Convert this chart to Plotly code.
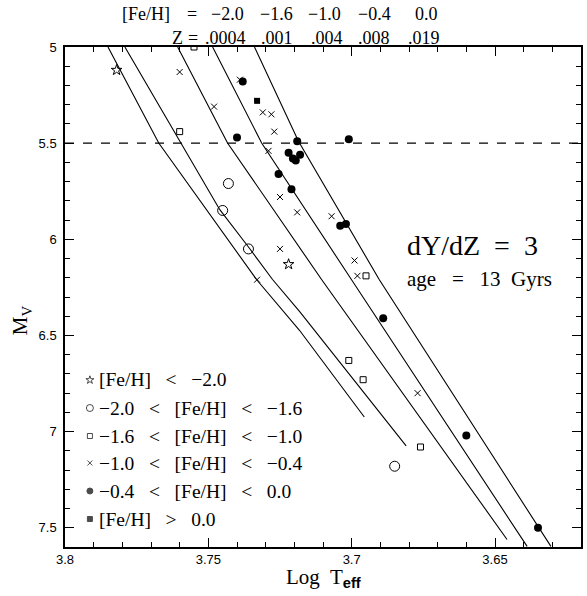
import plotly.graph_objects as go

# ---------------- data ----------------
# isochrones (Log Teff, M_V), 13 Gyr, dY/dZ = 3
iso_z = [".0004", ".001", ".004", ".008", ".019"]
iso_feh = ["−2.0", "−1.6", "−1.0", "−0.4", "0.0"]
iso1_teff = [3.7850, 3.7673, 3.7332, 3.7182, 3.6956]
iso1_mv = [5.00, 5.499, 6.209, 6.473, 6.924]
iso2_teff = [3.7791, 3.7460, 3.7356, 3.7276, 3.7182, 3.6810]
iso2_mv = [5.00, 5.846, 6.048, 6.209, 6.375, 7.074]
iso3_teff = [3.7607, 3.7433, 3.7105, 3.6458]
iso3_mv = [5.00, 5.499, 6.209, 7.561]
iso4_teff = [3.7485, 3.7314, 3.7001, 3.6388]
iso4_mv = [5.00, 5.499, 6.209, 7.597]
iso5_teff = [3.7339, 3.7186, 3.6904, 3.6305]
iso5_mv = [5.00, 5.489, 6.209, 7.597]

# stars by metallicity bin
star_teff = [3.782, 3.722]
star_mv = [5.12, 6.13]
ocirc_teff = [3.743, 3.745, 3.736, 3.685]
ocirc_mv = [5.71, 5.85, 6.05, 7.18]
osq_teff = [3.755, 3.760, 3.695, 3.701, 3.696, 3.676]
osq_mv = [5.00, 5.44, 6.19, 6.63, 6.73, 7.08]
cross_teff = [3.760, 3.739, 3.731, 3.728, 3.748, 3.727, 3.729, 3.725, 3.719,
              3.725, 3.733, 3.707, 3.699, 3.698, 3.677]
cross_mv = [5.13, 5.17, 5.34, 5.35, 5.31, 5.44, 5.54, 5.78, 5.86,
            6.05, 6.21, 5.88, 6.11, 6.19, 6.80]
fcirc_teff = [3.738, 3.740, 3.719, 3.722, 3.718, 3.7205, 3.7195, 3.7255, 3.721,
              3.701, 3.704, 3.702, 3.689, 3.660, 3.635]
fcirc_mv = [5.18, 5.47, 5.49, 5.55, 5.56, 5.58, 5.59, 5.66, 5.74,
            5.48, 5.93, 5.92, 6.41, 7.02, 7.50]
fsq_teff = [3.733]
fsq_mv = [5.28]

cut_mv = [5.5]

legend_labels = ["[Fe/H]   <   −2.0", "−2.0   <   [Fe/H]   <   −1.6", "−1.6   <   [Fe/H]   <   −1.0",
                 "−1.0   <   [Fe/H]   <   −0.4", "−0.4   <   [Fe/H]   <   0.0", "[Fe/H]   >   0.0"]

x_tickvals = [3.8, 3.75, 3.7, 3.65]
x_ticktext = ["3.8", "3.75", "3.7", "3.65"]
y_tickvals = [5, 5.5, 6, 6.5, 7, 7.5]
y_ticktext = ["5", "5.5", "6", "6.5", "7", "7.5"]

# ---------------- layout helpers ----------------
W, H = 587, 596                # figure size (page body margin removed below)
L, R, T, B = 65, 583, 47, 547  # plot box in window pixels
SERIF = "Liberation Serif"
SANS = "Liberation Sans"


def px(x):
    return (x - L) / (R - L)


def py(y):
    return (B - y) / (B - T)


fig = go.Figure()

for tx, mv in [(iso1_teff, iso1_mv), (iso2_teff, iso2_mv), (iso3_teff, iso3_mv),
               (iso4_teff, iso4_mv), (iso5_teff, iso5_mv)]:
    fig.add_trace(go.Scatter(x=tx, y=mv, mode="lines",
                             line=dict(color="black", width=1.1), showlegend=False))

sym_specs = [
    (star_teff, star_mv, "star-open", 8, 1.0),
    (ocirc_teff, ocirc_mv, "circle-open", 10, 1.0),
    (osq_teff, osq_mv, "square-open", 6, 1.0),
    (cross_teff, cross_mv, "x-thin-open", 6, 1.0),
    (fcirc_teff, fcirc_mv, "circle", 8, 0),
    (fsq_teff, fsq_mv, "square", 6, 0),
]
for tx, mv, sym, size, lw in sym_specs:
    fig.add_trace(go.Scatter(x=tx, y=mv, mode="markers",
                             marker=dict(symbol=sym, size=size, color="black",
                                         line=dict(color="black", width=lw)),
                             showlegend=False))

fig.add_hline(y=cut_mv[0], line=dict(color="black", width=1.1, dash="dash"))

# legend key markers on an overlay axis (0..1 box)
leg_rows = [380, 408, 436, 463, 491, 519]
fig.add_trace(go.Scatter(
    x=[px(90)] * len(legend_labels), y=[py(r) for r in leg_rows],
    mode="markers", xaxis="x2", yaxis="y2", showlegend=False,
    marker=dict(symbol=[s[2] for s in sym_specs], size=[6, 7, 5, 5, 6, 5],
                color="black", line=dict(color="black", width=1))))

annotations = []
for lab, r in zip(legend_labels, leg_rows):
    annotations.append(dict(x=px(97), y=py(r), xref="paper", yref="paper",
                            text=lab, showarrow=False, xanchor="left", yanchor="middle",
                            font=dict(family=SERIF, size=19.5, color="black")))

# header rows
feh_x = [228, 277, 326, 376, 428]
z_x = [226, 278, 328, 375, 425]
ROW1, ROW2 = 14, 38
HFONT = dict(family=SERIF, size=18, color="black")
annotations.append(dict(x=px(172), y=py(ROW1), xref="paper", yref="paper", text="[Fe/H]",
                        showarrow=False, xanchor="right", yanchor="middle", font=HFONT))
annotations.append(dict(x=px(192), y=py(ROW1), xref="paper", yref="paper", text="=",
                        showarrow=False, xanchor="center", yanchor="middle", font=HFONT))
annotations.append(dict(x=px(185), y=py(ROW2), xref="paper", yref="paper", text="Z",
                        showarrow=False, xanchor="right", yanchor="middle", font=HFONT))
annotations.append(dict(x=px(193), y=py(ROW2), xref="paper", yref="paper", text="=",
                        showarrow=False, xanchor="center", yanchor="middle", font=HFONT))
for f, xx in zip(iso_feh, feh_x):
    annotations.append(dict(x=px(xx), y=py(ROW1), xref="paper", yref="paper", text=f,
                            showarrow=False, xanchor="center", yanchor="middle", font=HFONT))
for z, xx in zip(iso_z, z_x):
    annotations.append(dict(x=px(xx), y=py(ROW2), xref="paper", yref="paper", text=z,
                            showarrow=False, xanchor="center", yanchor="middle", font=HFONT))

annotations.append(dict(x=px(406), y=py(245), xref="paper", yref="paper", text="dY/dZ  =  3",
                        showarrow=False, xanchor="left", yanchor="middle",
                        font=dict(family=SERIF, size=28, color="black")))
annotations.append(dict(x=px(406), y=py(279), xref="paper", yref="paper", text="age   =   13  Gyrs",
                        showarrow=False, xanchor="left", yanchor="middle",
                        font=dict(family=SERIF, size=21, color="black")))

annotations.append(dict(x=px(325), y=py(578), xref="paper", yref="paper",
                        text="Log  T<sub><span style='font-family:Liberation Sans;font-weight:bold'>eff</span></sub>",
                        showarrow=False, xanchor="center", yanchor="middle",
                        font=dict(family=SERIF, size=21, color="black")))
annotations.append(dict(x=px(21), y=py(320), xref="paper", yref="paper",
                        text="M<sub>V</sub>", textangle=-90,
                        showarrow=False, xanchor="center", yanchor="middle",
                        font=dict(family=SERIF, size=21, color="black")))

axis_common = dict(showgrid=False, zeroline=False, showline=True, linecolor="black",
                   linewidth=1.5, mirror="allticks", ticks="inside", ticklen=9,
                   tickwidth=1, tickcolor="black",
                   tickfont=dict(family=SANS, size=13, color="black"))

fig.update_layout(
    width=W, height=H, autosize=False,
    margin=dict(l=L, r=W - R, t=T, b=H - B, pad=0),
    paper_bgcolor="white", plot_bgcolor="white",
    showlegend=False,
    xaxis=dict(range=[3.8, 3.62], tickvals=x_tickvals, ticktext=x_ticktext,
               minor=dict(ticks="inside", ticklen=5, dtick=0.01, tick0=3.8,
                          tickcolor="black", showgrid=False),
               **axis_common),
    yaxis=dict(range=[7.6, 5], tickvals=y_tickvals, ticktext=y_ticktext,
               minor=dict(ticks="inside", ticklen=5, dtick=0.1, tick0=5,
                          tickcolor="black", showgrid=False),
               ticklabelstandoff=4, **axis_common),
    xaxis2=dict(range=[0, 1], overlaying="x", visible=False, fixedrange=True),
    yaxis2=dict(range=[0, 1], overlaying="y", visible=False, fixedrange=True),
    annotations=annotations,
)

fig.write_html("out.html", config={"displayModeBar": False},
               post_script="document.body.style.margin='0px';document.body.style.padding='0px';"
                           "document.body.style.overflow='hidden';")
